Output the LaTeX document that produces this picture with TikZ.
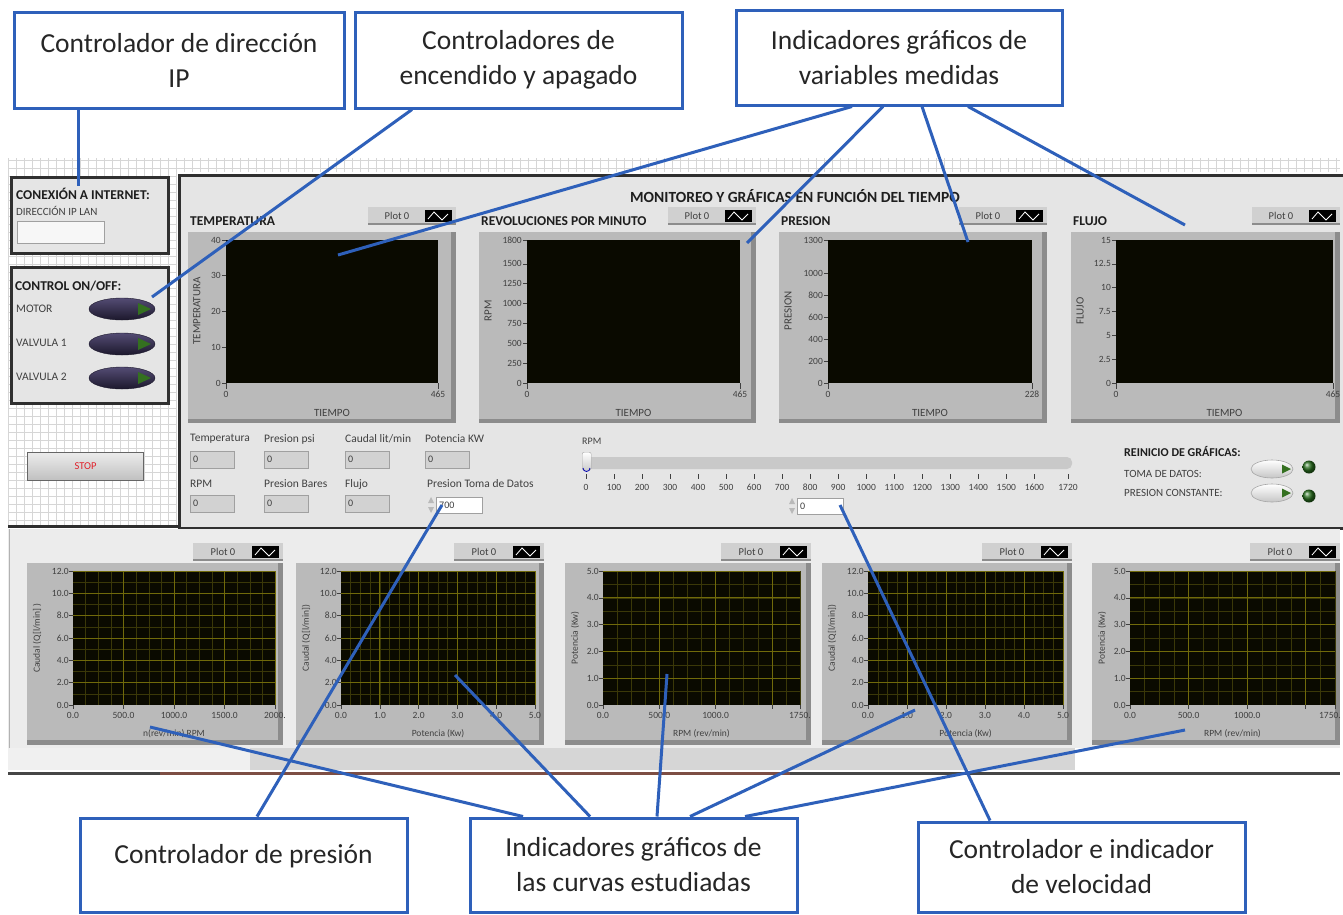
\documentclass[tikz,border=0pt]{standalone}
\usepackage{fontspec}
\setmainfont{Carlito}
\usetikzlibrary{shapes.geometric}

\definecolor{callblue}{RGB}{46,96,186}
\definecolor{calltext}{RGB}{38,38,38}
\definecolor{panelbg}{RGB}{229,229,229}
\definecolor{boxedge}{RGB}{48,48,48}
\definecolor{gridcol}{RGB}{214,214,214}
\definecolor{uidark}{RGB}{30,30,30}
\definecolor{uitext}{RGB}{64,64,64}
\definecolor{framegray}{RGB}{186,186,186}
\definecolor{frameshade}{RGB}{140,140,140}
\definecolor{legendgray}{RGB}{208,208,208}
\definecolor{plotbg}{RGB}{10,10,0}
\definecolor{gridminor}{RGB}{58,56,8}
\definecolor{gridmajor}{RGB}{112,106,10}
\definecolor{fieldgray}{RGB}{210,210,210}
\definecolor{fieldedge}{RGB}{160,160,160}
\definecolor{btntop}{RGB}{84,76,116}
\definecolor{btnbot}{RGB}{28,24,44}
\definecolor{btngreen}{RGB}{52,112,32}
\definecolor{ledgreen}{RGB}{40,110,30}
\definecolor{lowbg}{RGB}{236,236,236}
\definecolor{scrollgray}{RGB}{214,214,214}
\definecolor{rustline}{RGB}{125,78,68}
\definecolor{stopred}{RGB}{225,30,40}

\pgfkeys{/pgf/number format/assume math mode=true}

\tikzset{
  callout/.style={draw=callblue, line width=3pt, fill=white, align=center,
    text=calltext, font=\fontsize{27.5}{35}\selectfont, inner sep=0pt},
  link/.style={draw=callblue, line width=3pt},
  uibox/.style={draw=boxedge, line width=3pt, fill=panelbg, inner sep=0pt},
  hdr/.style={font=\bfseries\fontsize{13.5}{14}\selectfont, text=uidark, inner sep=0pt, anchor=west},
  lbl/.style={font=\fontsize{11.5}{12}\selectfont, text=uitext, inner sep=0pt, anchor=west},
  tick/.style={font=\fontsize{9.5}{10}\selectfont, text=uitext, inner sep=0pt},
  tickline/.style={draw=uitext, line width=0.6pt},
  field/.style={fill=fieldgray, draw=fieldedge, line width=0.6pt, inner sep=0pt,
    anchor=north west, minimum width=44pt, minimum height=17pt},
  fieldtxt/.style={font=\fontsize{10}{10}\selectfont, text=uitext, inner sep=0pt, anchor=west},
  minorgrid/.style={draw=gridminor, line width=0.5pt},
  majorgrid/.style={draw=gridmajor, line width=0.7pt},
  onoff/.style={ellipse, minimum width=66pt, minimum height=22pt, inner sep=0pt,
    top color=btntop, bottom color=btnbot, draw=btnbot},
  toggle/.style={ellipse, minimum width=42pt, minimum height=18pt, inner sep=0pt,
    top color=white, bottom color=gray!45, draw=gray!70, line width=0.6pt},
  led/.style={circle, minimum size=13pt, inner sep=0pt, ball color=ledgreen},
}

% legend strip of a chart: left, right, top, name
\newcommand\plotlegend[4]{%
  \fill[legendgray] (#1,#3) rectangle (#2,#3+18);
  \fill[frameshade] (#1,#3+16) rectangle (#2,#3+18);
  \node[tick, font=\fontsize{10.5}{11}\selectfont] (#4legend) at ({(#1+#2-30)/2},#3+9) {Plot 0};
  \fill[black] (#2-31,#3+3) rectangle (#2-4,#3+15);
  \draw[white, line width=0.8pt] (#2-28,#3+12) -- (#2-22,#3+5) -- (#2-14,#3+13) -- (#2-8,#3+7);
}

% time chart: frame left, frame right, plot left, plot right, title, y title, last x label, name
\newcommand\timechart[8]{%
  \node[hdr] (#8title) at (#1+2,221) {#5};
  \fill[framegray] (#1,232) rectangle (#2,423);
  \fill[frameshade] (#2-5,232) rectangle (#2,423);
  \fill[frameshade] (#1,419) rectangle (#2,423);
  \plotlegend{#2-88}{#2}{207}{#8}
  \fill[plotbg] (#3,240) rectangle (#4,383);
  \draw[tickline] (#3,383) -- (#3,389) (#4,383) -- (#4,389);
  \node[tick, anchor=north] (#8xmin) at (#3,391) {0};
  \node[tick, anchor=north] (#8xmax) at (#4,391) {#7};
  \node[tick, font=\fontsize{11}{11}\selectfont] (#8xtitle) at ({(#3+#4)/2},413) {TIEMPO};
  \node[tick, font=\fontsize{11}{11}\selectfont, rotate=90] (#8ytitle) at (#1+9,311) {#6};
}
% y ticks of a time chart: plot left, maximum, values
\newcommand\tticks[3]{%
  \foreach \v in {#3}{%
    \pgfmathsetmacro\yy{383-143*(\v/#2)}
    \draw[tickline] (#1-4,\yy) -- (#1,\yy);
    \node[tick, anchor=east] at (#1-5,\yy) {\v};
  }
}

% curve chart: frame left, frame right, plot left, plot right, x subdivisions, y subdivisions, y title, x title, name
\newcommand\curvechart[9]{%
  \fill[framegray] (#1,563) rectangle (#2,745);
  \fill[frameshade] (#2-5,563) rectangle (#2,745);
  \fill[frameshade] (#1,740) rectangle (#2,745);
  \plotlegend{#2-90}{#2}{543}{#9}
  \fill[plotbg] (#3,571) rectangle (#4,705);
  \foreach \i in {1,...,#5}{\pgfmathsetmacro\xx{#3+(#4-#3)*\i/#5}\draw[minorgrid] (\xx,571) -- (\xx,705);}
  \foreach \i in {1,...,#6}{\pgfmathsetmacro\yy{705-134*\i/#6}\draw[minorgrid] (#3,\yy) -- (#4,\yy);}
  \foreach \i in {4,8,...,#5}{\pgfmathsetmacro\xx{#3+(#4-#3)*\i/#5}\draw[majorgrid] (\xx,571) -- (\xx,705);}
  \foreach \i in {2,4,...,#6}{\pgfmathsetmacro\yy{705-134*\i/#6}\draw[majorgrid] (#3,\yy) -- (#4,\yy);}
  \node[tick, rotate=90] (#9ytitle) at (#1+10,638) {#7};
  \node[tick] (#9xtitle) at ({(#3+#4)/2},734) {#8};
}
% axis labels of a curve chart
\newcommand\byticks[3]{% plot left, maximum, values
  \foreach \v in {#3}{%
    \pgfmathsetmacro\yy{705-134*(\v/#2)}
    \draw[tickline] (#1-4,\yy) -- (#1,\yy);
    \node[tick, anchor=east] at (#1-4,\yy) {\pgfmathprintnumber[fixed,fixed zerofill,precision=1]{\v}};
  }
}
\newcommand\bxticks[4]{% plot left, plot right, maximum, value/label pairs
  \foreach \v/\t in {#4}{%
    \pgfmathsetmacro\xx{#1+(#2-#1)*(\v/#3)}
    \draw[tickline] (\xx,705) -- (\xx,709);
    \node[tick, anchor=north] at (\xx,712) {\t};
  }
}

\begin{document}
\begin{tikzpicture}[x=1pt, y=-1pt]
\useasboundingbox (0,0) rectangle (1343,914);
\fill[white] (0,0) rectangle (1343,914);

% ---------------- front panel: background grid
\fill[white] (8,158) rectangle (1340,527);
\draw[gridcol, line width=0.5pt, step=8pt] (8,158) grid (1340,172);
\draw[gridcol, line width=0.5pt, step=8pt] (8,172) grid (176,527);

% ---------------- network box
\node[uibox, anchor=north west, minimum width=157pt, minimum height=76pt] (netbox) at (9.5,175.5) {};
\node[hdr] (nethdr) at (16,194) {CONEXIÓN A INTERNET:};
\node[lbl, font=\fontsize{11}{12}\selectfont] (iplbl) at (16,211) {DIRECCIÓN IP LAN};
\node[field, fill=gray!6, minimum width=87pt, minimum height=22pt] (ipbox) at (17,221) {};

% ---------------- on/off box
\node[uibox, anchor=north west, minimum width=157pt, minimum height=136pt] (switchbox) at (9.5,265.5) {};
\node[hdr] (switchhdr) at (15,286) {CONTROL ON/OFF:};
\node[lbl] (motorlbl) at (16,309) {MOTOR};
\node[lbl] (v1lbl) at (16,343) {VALVULA 1};
\node[lbl] (v2lbl) at (16,377) {VALVULA 2};
\foreach \n/\y in {motorbtn/309, v1btn/344, v2btn/378}{
  \node[onoff] (\n) at (122,\y) {};
  \fill[btngreen] (138,\y-6) -- (151,\y) -- (138,\y+6) -- cycle;
}

% ---------------- stop button
\node[anchor=north west, minimum width=116pt, minimum height=28pt, inner sep=0pt,
  top color=gray!15, bottom color=gray!50, draw=gray!80!black, line width=1pt,
  text=stopred, font=\fontsize{10.5}{11}\selectfont] (stop) at (27,452) {STOP};

% ---------------- main monitoring panel
\node[uibox, anchor=north west, minimum width=1166pt, minimum height=353pt] (mainpanel) at (177.5,173.5) {};
\draw[boxedge, line width=3pt] (8,526.5) -- (178,526.5);
\node[font=\bfseries\fontsize{15.5}{16}\selectfont, text=uidark, inner sep=0pt] (maintitle) at (795,196)
  {MONITOREO Y GRÁFICAS EN FUNCIÓN DEL TIEMPO};

\timechart{188}{456}{226}{438}{TEMPERATURA}{TEMPERATURA}{465}{temp}
\tticks{226}{40}{0,10,20,30,40}
\timechart{479}{756}{527}{740}{REVOLUCIONES POR MINUTO}{RPM}{465}{rpm}
\tticks{527}{1800}{0,250,500,750,1000,1250,1500,1800}
\timechart{779}{1047}{828}{1032}{PRESION}{PRESION}{228}{pres}
\tticks{828}{1300}{0,200,400,600,800,1000,1300}
\timechart{1071}{1340}{1116}{1333}{FLUJO}{FLUJO}{465}{flow}
\tticks{1116}{15}{0,2.5,5,7.5,10,12.5,15}

% ---------------- numeric indicators
\node[lbl] (l1) at (190,439) {Temperatura};
\node[lbl] (l2) at (264,439) {Presion psi};
\node[lbl] (l3) at (345,439) {Caudal lit/min};
\node[lbl] (l4) at (425,439) {Potencia KW};
\node[lbl] (l5) at (190,484) {RPM};
\node[lbl] (l6) at (264,484) {Presion Bares};
\node[lbl] (l7) at (345,484) {Flujo};
\node[lbl] (l8) at (427,484) {Presion Toma de Datos};
\foreach \n/\x/\y in {f1/190/451, f2/264/451, f3/345/451, f4/425/451, f5/190/495, f6/264/495, f7/345/495}{
  \node[field] (\n) at (\x,\y) {};
  \node[fieldtxt] at (\x+3,\y+8.5) {0};
}
% pressure set-point control
\node[field, fill=white, minimum width=46pt, minimum height=16pt] (presspinbox) at (436,497) {};
\node[fieldtxt] (presval) at (439,505) {700};
\fill[gray!55] (428,503) -- (431,497) -- (434,503) -- cycle;
\fill[gray!55] (428,507) -- (431,513) -- (434,507) -- cycle;

% ---------------- speed slider
\node[lbl, font=\fontsize{10}{10}\selectfont] (sliderlbl) at (582,441) {RPM};
\fill[gray!42, rounded corners=5pt] (583,457) rectangle (1072,469);
\node[anchor=north west, minimum width=9pt, minimum height=18pt, inner sep=0pt,
  rounded corners=2pt, top color=white, bottom color=gray!40, draw=gray!70] (thumb) at (582,452) {};
\draw[blue!70!black, line width=0.8pt] (583,468) arc[start angle=180, end angle=360, radius=3.5pt];
\foreach \v in {0,100,...,1600,1720}{
  \pgfmathsetmacro\xx{586+482*(\v/1720)}
  \draw[tickline, line width=0.5pt] (\xx,474) -- (\xx,479);
  \node[tick] at (\xx,487) {\v};
}
\node[field, fill=white, minimum width=46pt, minimum height=16pt] (velspinbox) at (797,498) {};
\node[fieldtxt] (velval) at (800,506) {0};
\fill[gray!55] (789,504) -- (792,498) -- (795,504) -- cycle;
\fill[gray!55] (789,508) -- (792,514) -- (795,508) -- cycle;

% ---------------- chart reset switches
\node[hdr, font=\bfseries\fontsize{12}{12}\selectfont] (resethdr) at (1124,451) {REINICIO DE GRÁFICAS:};
\node[lbl, font=\fontsize{11}{11}\selectfont] (takelbl) at (1124,474) {TOMA DE DATOS:};
\node[lbl, font=\fontsize{11}{11}\selectfont] (constlbl) at (1124,493) {PRESION CONSTANTE:};
\foreach \n/\y in {takesw/469, constsw/493}{
  \node[toggle] (\n) at (1272,\y) {};
  \fill[btngreen] (1282,\y-4.5) -- (1291,\y) -- (1282,\y+4.5) -- cycle;
}
\node[led] (takeled) at (1309,467) {};
\node[led] (constled) at (1309,496) {};

% ---------------- lower panel with characteristic curves
\fill[lowbg] (8,529) rectangle (1340,770);
\draw[gray!60, line width=1pt] (9,529) -- (9,770);
\fill[gray!12] (8,748) rectangle (250,770);
\fill[scrollgray] (250,748) rectangle (1075,770);
\fill[white] (1075,748) rectangle (1340,770);
\draw[gray!55!black, line width=3pt] (8,773) -- (1340,773);
\draw[rustline, line width=3pt] (160,773) -- (790,773);

\curvechart{27}{283}{73}{275}{16}{12}{Caudal (Q[l/min] )}{n(rev/min) RPM}{qn}
\byticks{73}{12}{0,2,...,12}
\bxticks{73}{275}{2000}{0/0.0, 500/500.0, 1000/1000.0, 1500/1500.0, 2000/2000.}

\curvechart{296}{544}{341}{535}{20}{12}{Caudal (Q[l/min])}{Potencia (Kw)}{qp}
\byticks{341}{12}{0,2,...,12}
\bxticks{341}{535}{5}{0/0.0, 1/1.0, 2/2.0, 3/3.0, 4/4.0, 5/5.0}

\curvechart{565}{811}{603}{800}{14}{10}{Potencia (Kw)}{RPM (rev/min)}{pn}
\byticks{603}{5}{0,1,...,5}
\bxticks{603}{800}{1750}{0/0.0, 500/500.0, 1000/1000.0, 1500/{}, 1750/1750.}

\curvechart{822}{1072}{868}{1063}{20}{12}{Caudal (Q[l/min])}{Potencia (Kw)}{qp2}
\byticks{868}{12}{0,2,...,12}
\bxticks{868}{1063}{5}{0/0.0, 1/1.0, 2/2.0, 3/3.0, 4/4.0, 5/5.0}

\curvechart{1092}{1340}{1130}{1335}{14}{10}{Potencia (Kw)}{RPM (rev/min)}{pn2}
\byticks{1130}{5}{0,1,...,5}
\bxticks{1130}{1335}{1750}{0/0.0, 500/500.0, 1000/1000.0, 1500/{}, 1750/{}}
\node[tick, anchor=north east] (pn2xmax) at (1341,712) {1750.};

% ---------------- callouts
\node[callout, minimum width=330pt, minimum height=96pt] (ipnote) at (179,60) {Controlador de dirección\\IP};
\node[callout, minimum width=327pt, minimum height=96pt] (switchnote) at (518.5,60) {Controladores de\\encendido y apagado};
\node[callout, minimum width=326pt, minimum height=95pt] (varnote) at (899,57.5) {Indicadores gráficos de\\variables medidas};
\node[callout, minimum width=327pt, minimum height=94pt, text depth=23pt] (presnote) at (243.5,865) {Controlador de presión};
\node[callout, minimum width=327pt, minimum height=94pt] (curvenote) at (633.5,865) {Indicadores gráficos de\\las curvas estudiadas};
\node[callout, minimum width=327pt, minimum height=90pt] (velnote) at (1081.5,867) {Controlador e indicador\\de velocidad};

% targets of the callout lines
\coordinate (ipend) at (78,186);
\coordinate (motorend) at (152,297);
\coordinate (tempend) at (338,255);
\coordinate (rpmend) at (747,243);
\coordinate (presend) at (968,242);
\coordinate (flowend) at (1185,225);
\coordinate (presspinend) at (442,505);
\coordinate (velspinend) at (840,505);
\coordinate (qnend) at (150,727);
\coordinate (qpend) at (455,675);
\coordinate (pnend) at (667,674);
\coordinate (qp2end) at (915,710);
\coordinate (pn2end) at (1185,730);

\draw[link] ([xshift=-101pt]ipnote.south) -- (ipend);
\draw[link] ([xshift=-106.5pt]switchnote.south) -- (motorend);
\draw[link] ([xshift=-47pt]varnote.south) -- (tempend);
\draw[link] ([xshift=-16pt]varnote.south) -- (rpmend);
\draw[link] ([xshift=23pt]varnote.south) -- (presend);
\draw[link] ([xshift=69pt]varnote.south) -- (flowend);
\draw[link] ([xshift=13.5pt]presnote.north) -- (presspinend);
\draw[link] ([xshift=-110.5pt]curvenote.north) -- (qnend);
\draw[link] ([xshift=-43.5pt]curvenote.north) -- (qpend);
\draw[link] ([xshift=23.5pt]curvenote.north) -- (pnend);
\draw[link] ([xshift=56.5pt]curvenote.north) -- (qp2end);
\draw[link] ([xshift=111.5pt]curvenote.north) -- (pn2end);
\draw[link] ([xshift=-91.5pt]velnote.north) -- (velspinend);
\end{tikzpicture}
\end{document}
